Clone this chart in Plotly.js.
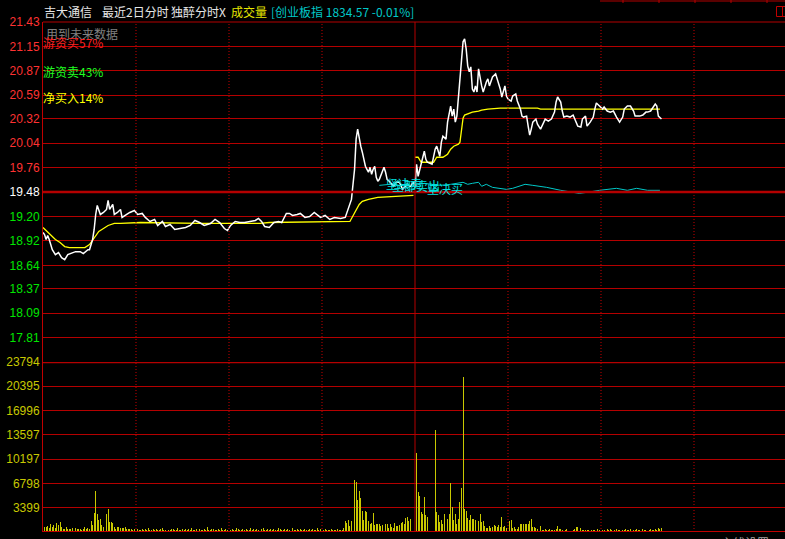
<!DOCTYPE html>
<html><head><meta charset="utf-8">
<script src="https://cdn.plot.ly/plotly-3.0.1.min.js"></script>
<style>html,body{margin:0;padding:0;background:#000;overflow:hidden}#chart{width:785px;height:539px}</style>
</head><body><div id="chart"></div>
<script>
// ---------- data ----------
const prevClose = 19.48;
const priceTicks = [21.43,21.15,20.87,20.59,20.32,20.04,19.76,19.48,19.20,18.92,18.64,18.37,18.09,17.81];
const volTicks = [3399,6798,10197,13597,16996,20395,23794];
const hourMarks = [60,120,180,240,300,360,420];
const dayBreak = 240;

// price line (white), minute index / price
const day1Min = [0,1,2,3,4,6,8,10,12,14,16,19,21,24,26,29,30,32,33,34,35,37,39,41,42,43,45,46,48,50,51,54,56,59,61,64,66,69,72,74,77,79,82,85,88,92,95,98,101,104,108,111,114,117,119,121,124,127,130,134,137,139,141,143,146,149,152,154,157,159,161,164,166,169,172,175,179,182,185,188,192,195,197,198,199,201,202,203,204,205,206,207,208,209,210,211,212,213,214,215,216,217,219,220,221,222,224,226,228,230,232,235,237,239];
const day1Price = [19.016,18.993,18.936,18.982,18.936,18.820,18.763,18.786,18.728,18.705,18.763,18.786,18.797,18.797,18.774,18.820,18.820,18.936,19.051,19.223,19.327,19.223,19.246,19.281,19.384,19.281,19.338,19.223,19.246,19.281,19.189,19.223,19.246,19.269,19.223,19.235,19.189,19.143,19.166,19.097,19.143,19.085,19.108,19.051,19.062,19.074,19.097,19.154,19.131,19.097,19.120,19.166,19.131,19.062,19.039,19.097,19.143,19.131,19.131,19.143,19.154,19.177,19.143,19.085,19.074,19.131,19.143,19.131,19.235,19.235,19.212,19.223,19.235,19.189,19.200,19.246,19.189,19.212,19.166,19.189,19.177,19.189,19.281,19.338,19.396,19.741,20.087,20.202,20.087,20.006,19.937,19.856,19.776,19.741,19.707,19.764,19.684,19.741,19.776,19.649,19.603,19.626,19.707,19.764,19.707,19.626,19.592,19.546,19.592,19.592,19.511,19.569,19.546,19.592];
const day2Min = [240,241,242,243,245,246,247,248,251,253,254,256,257,258,260,261,263,264,265,266,267,268,270,271,272,273,274,275,276,277,278,279,280,281,283,284,286,287,288,290,292,293,295,296,297,298,299,300,302,303,305,306,308,309,310,312,313,314,315,316,318,319,321,323,324,326,328,330,331,332,334,335,336,338,340,342,343,345,347,348,350,351,353,355,356,357,359,361,362,364,366,368,370,372,374,375,377,379,381,382,385,387,389,390,392,394,395,396,397,399];
const day2Price = [19.546,19.799,19.661,19.741,19.891,19.948,19.856,19.822,19.799,19.972,20.006,19.891,20.052,20.121,20.087,20.282,20.466,20.351,20.432,20.282,20.351,20.581,20.973,21.203,21.238,21.123,20.927,20.858,20.915,20.662,20.628,20.697,20.628,20.892,20.697,20.628,20.743,20.777,20.697,20.800,20.835,20.777,20.662,20.570,20.628,20.697,20.581,20.547,20.524,20.581,20.605,20.524,20.432,20.351,20.340,20.351,20.236,20.133,20.202,20.282,20.317,20.259,20.202,20.282,20.317,20.294,20.317,20.397,20.512,20.570,20.512,20.409,20.340,20.351,20.340,20.363,20.317,20.236,20.225,20.317,20.351,20.236,20.282,20.340,20.432,20.501,20.466,20.432,20.455,20.409,20.397,20.409,20.340,20.282,20.340,20.432,20.466,20.466,20.409,20.351,20.351,20.363,20.397,20.397,20.409,20.466,20.489,20.466,20.351,20.317];

// average price (yellow)
const avg1Min = [0,5,8,11,14,17,27,30,34,36,38,42,46,50,63,101,140,146,198,200,202,204,206,210,216,230,239];
const avg1Price = [19.074,18.993,18.936,18.901,18.855,18.843,18.843,18.878,18.970,19.028,19.051,19.097,19.120,19.120,19.131,19.120,19.120,19.131,19.143,19.212,19.281,19.338,19.373,19.396,19.419,19.430,19.442];
const avg2Min = [240,242,244,252,254,258,261,263,265,268,269,270,271,272,274,277,281,283,287,295,319,321,398];
const avg2Price = [19.879,19.879,19.822,19.822,19.879,19.879,19.914,19.972,20.006,20.029,20.052,20.202,20.328,20.363,20.374,20.397,20.409,20.420,20.432,20.443,20.443,20.432,20.432];

// 创业板指 overlay (cyan), on price scale
const idxMin = [217,224,230,237,240,246,256,263,271,274,277,281,283,286,290,299,303,311,316,325,334,342,346,351,359,370,377,383,390,398];
const idxLine = [19.557,19.569,19.557,19.546,19.557,19.580,19.557,19.569,19.592,19.569,19.580,19.592,19.546,19.569,19.534,19.511,19.523,19.569,19.557,19.534,19.500,19.477,19.465,19.477,19.500,19.523,19.500,19.523,19.500,19.500];

// volume per minute
const vol1 = [1820,700,770,840,630,1120,700,980,630,1220,980,1400,700,420,420,700,420,420,420,560,420,630,420,420,420,280,420,700,420,630,490,1540,980,2620,5740,2520,1680,1820,980,770,2480,2480,3180,1400,1360,1330,660,380,740,660,520,560,520,660,380,460,380,460,280,380,380,
420,280,350,490,280,420,350,560,280,350,
420,280,490,350,280,420,560,350,280,420,
350,280,490,420,280,350,630,280,350,420,
280,490,350,420,280,560,350,280,420,350,
490,280,350,420,280,700,350,280,420,490,
350,280,420,350,560,280,350,420,280,490,
350,420,280,350,560,420,280,350,490,280,
420,350,280,630,350,420,280,490,350,280,
420,560,350,280,420,350,490,280,420,350,
280,560,420,350,280,490,350,420,280,350,
630,350,280,420,350,490,280,350,420,280,
350,490,280,420,350,280,560,350,420,280,
350,420,280,350,280,420,280,350,280,420,
280,350,280,
520,1500,1260,1680,840,1500,5600,7280,7000,4480,5740,4760,2940,1680,2940,2800,1540,1120,1260,2660,980,1120,1120,1120,840,980,1820,1120,1120,560,1120,700,560,1260,840,840,980,1260,1400,1120,1960,2100,1540,1820,140,0];
const vol2 = [3640,11060,5600,5040,2800,2520,4900,2380,2100,0,0,0,0,14280,2800,2380,1400,1680,1100,2520,1960,1820,2520,6860,3500,1680,2520,1120,1820,4200,6160,21700,3220,2940,1960,1680,2380,1820,1820,1680,1400,1540,2520,1400,1540,840,560,560,840,560,700,980,840,700,980,700,2100,700,840,560,1120,1540,1680,560,700,420,420,700,1120,1120,1120,1120,1120,1120,1540,1820,700,700,560,420,420,840,280,280,420,280,280,420,280,280,280,420,840,420,420,280,140,280,420,140,280,140,280,420,700,700,140,560,280,280,280,280,280,140,280,280,
280,140,420,280,140,280,280,140,420,280,420,280,140,280,420,280,280,140,280,280,420,280,280,420,420,280,280,420,280,280,140,420,280,280,140,280,420,280,280,420,280,560,420,560];

// ---------- drawing ----------
const L = 43, W = 742, B = 532, H = 510;
const px = p => (p - L) / W;
const py = p => (B - p) / H;
const CJK = 'Noto Sans CJK SC, Liberation Sans, sans-serif';
const NUM = 'Liberation Sans, Arial, sans-serif';

const volX = vol1.map((v, i) => i).concat(vol2.map((v, i) => dayBreak + i));
const volY = vol1.concat(vol2);

const traces = [
  {type:'bar', x:volX, y:volY, yaxis:'y2', width:0.62, marker:{color:'#c8c800', line:{width:0}}, hoverinfo:'skip'},
  {type:'scatter', mode:'lines', x:avg1Min, y:avg1Price, line:{color:'#ffff00', width:1.3}},
  {type:'scatter', mode:'lines', x:avg2Min, y:avg2Price, line:{color:'#ffff00', width:1.3}},
  {type:'scatter', mode:'lines', x:idxMin, y:idxLine, line:{color:'#00c8c8', width:1}},
  {type:'scatter', mode:'lines', x:day1Min.concat(day2Min), y:day1Price.concat(day2Price), line:{color:'#ffffff', width:1.5}}
];

const priceText = priceTicks.map(v => {
  const c = Math.abs(v - prevClose) < 1e-9 ? '#ffffff' : (v > prevClose ? '#ff3232' : '#00e600');
  return '<span style="color:' + c + '">' + v.toFixed(2) + '</span>';
});

const shapes = [];
hourMarks.forEach(m => {
  shapes.push({type:'line', xref:'x', yref:'paper', x0:m, x1:m, y0:0, y1:1,
    line:{color: m === dayBreak ? '#b40000' : '#c80000', width:1, dash: m === dayBreak ? 'solid' : '1px,2px'}});
});
shapes.push({type:'line', xref:'paper', yref:'y', x0:0, x1:1, y0:prevClose, y1:prevClose, line:{color:'#b40000', width:2.5}});
shapes.push({type:'line', xref:'paper', yref:'y2', x0:0, x1:1, y0:volTicks[volTicks.length-1], y1:volTicks[volTicks.length-1], line:{color:'#b40000', width:2.5}});
shapes.push({type:'line', xref:'paper', yref:'y2', x0:0, x1:1, y0:0, y1:0, line:{color:'#c00000', width:2}});
shapes.push({type:'line', xref:'paper', yref:'paper', x0:0, x1:1, y0:1, y1:1, line:{color:'#b40000', width:1}});
// window chrome top-right
shapes.push({type:'line', xref:'paper', yref:'paper', x0:px(600), x1:px(786), y0:py(1), y1:py(1), line:{color:'#b40000', width:1}});
[623,659,695,731,767].forEach(t => shapes.push({type:'line', xref:'paper', yref:'paper', x0:px(t), x1:px(t), y0:py(0), y1:py(3), line:{color:'#b40000', width:1}}));
shapes.push({type:'rect', xref:'paper', yref:'paper', x0:px(776.5), x1:px(786), y0:py(6.5), y1:py(16.5), line:{color:'#c00000', width:1}});
shapes.push({type:'line', xref:'paper', yref:'paper', x0:px(782.5), x1:px(782.5), y0:py(6.5), y1:py(16.5), line:{color:'#c00000', width:1}});

function ann(text, x, y, color, size) {
  return {text:text, xref:'paper', yref:'paper', x:px(x), y:py(y), xanchor:'left', yanchor:'middle',
    showarrow:false, font:{family:CJK, size:size || 12, color:color}, borderpad:0, borderwidth:0};
}
const annotations = [
  ann('吉大通信', 44, 11, '#e6e6e6'),
  ann('最近2日分时', 102, 11, '#e6e6e6'),
  ann('独醉分时X', 171, 11, '#e6e6e6'),
  ann('成交量', 231, 11, '#e6e600'),
  ann('[创业板指 1834.57 -0.01%]', 271, 11, '#00c8c8'),
  ann('用到未来数据', 46, 33, '#808080'),
  ann('游资买57%', 43, 43, '#ff2020'),
  ann('游资卖43%', 43, 71, '#20ff20'),
  ann('净买入14%', 43, 97, '#ffff00'),
  ann('坚决卖', 386, 183, '#00e0e0'),
  ann('全部卖出', 392, 186, '#00e0e0'),
  ann('坚决买', 427, 189, '#00e0e0'),
  ann('主线设置', 721, 542, '#a0a0a0')
];

const layout = {
  width:785, height:539, paper_bgcolor:'#000', plot_bgcolor:'#000',
  margin:{l:L, r:0, t:22, b:7, pad:0}, showlegend:false, bargap:0,
  xaxis:{range:[0, 478.7], visible:false, fixedrange:true},
  yaxis:{domain:[1/3, 1], range:[17.5315, 21.43], tickmode:'array', tickvals:priceTicks, ticktext:priceText,
    showgrid:true, gridcolor:'#b40000', gridwidth:1, zeroline:false, showline:true, linecolor:'#c00000', linewidth:1,
    ticks:'', tickfont:{family:NUM, size:12, color:'#ffffff'}},
  yaxis2:{domain:[0, 1/3], range:[0, 23794], tickmode:'array', tickvals:volTicks, ticktext:volTicks.map(String),
    showgrid:true, gridcolor:'#b40000', gridwidth:1, zeroline:false, showline:true, linecolor:'#c00000', linewidth:1,
    ticks:'', tickfont:{family:NUM, size:12, color:'#c8c800'}},
  shapes:shapes, annotations:annotations
};

Plotly.newPlot('chart', traces, layout, {staticPlot:true, displayModeBar:false});
</script></body></html>
